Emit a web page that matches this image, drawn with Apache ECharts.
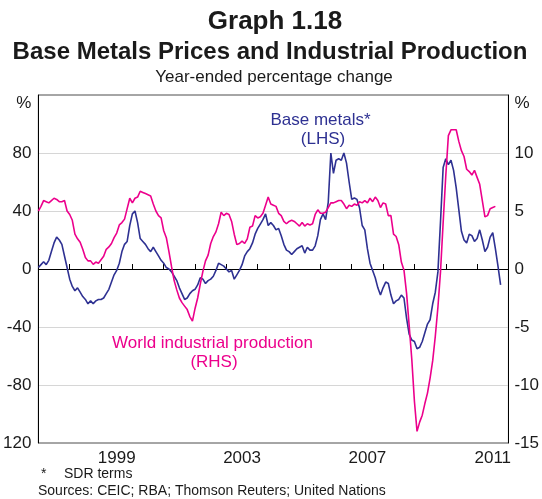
<!DOCTYPE html>
<html>
<head>
<meta charset="utf-8">
<script src="https://cdn.jsdelivr.net/npm/echarts@6/dist/echarts.min.js"></script>
<style>
html,body{margin:0;padding:0;background:#fff;}
#chart{width:542px;height:499px;}
</style>
</head>
<body>
<div id="chart"></div>
<script>
// Year categories on the x-axis (ticks at year boundaries, labels centred in the year)
const years = ['1997','1998','1999','2000','2001','2002','2003','2004','2005','2006','2007','2008','2009','2010','2011'];
const yearLabels = ['1999','2003','2007','2011'];

// Base metals prices, year-ended % change (LHS), monthly from Jan 1997
const metals = [
 1,3,5,3,6,12,18,22,20,17,9,1,
 -7,-12,-15,-13,-16,-19,-21,-24,-22,-24,-22,-21,
 -21,-20,-17,-14,-9,-4,-1,4,12,17,19,30,
 38,40,32,21,19,17,14,12,15,12,9,6,
 4,1,0,-2,-5,-8,-13,-17,-21,-20,-17,-15,
 -14,-11,-6,-7,-10,-8,-7,-5,-1,4,3,2,
 0,-2,-1,-7,-4,-1,3,9,12,14,18,24,
 28,31,34,38,30,32,30,27,28,23,17,13,
 12,10,12,14,15,16,11,15,13,13,16,23,
 34,38,34,46,80,66,75,76,75,80,73,60,
 48,49,48,42,30,27,14,4,-1,-6,-13,-18,
 -13,-9,-10,-18,-24,-22,-21,-18,-20,-34,-45,-49,
 -50,-55,-54,-50,-44,-38,-35,-24,-16,-2,33,70,
 76,72,75,68,56,41,26,20,18,24,23,19,
 21,27,20,12,15,22,25,14,2,-11
];

// World industrial production, year-ended % change (RHS), monthly from Jan 1997
const production = [
 5.0,5.4,5.9,5.8,5.7,5.9,6.1,6.0,5.8,5.8,5.9,5.0,
 4.7,4.2,3.0,2.6,2.3,1.7,1.0,0.7,0.7,0.4,0.6,0.5,
 0.8,1.1,1.7,1.9,2.2,2.7,3.1,3.8,4.0,4.3,5.2,6.1,
 5.7,6.1,6.2,6.7,6.6,6.5,6.4,6.3,5.6,5.0,4.6,4.4,
 3.3,2.7,1.5,0.2,-1.0,-1.8,-2.5,-2.9,-3.2,-3.5,-4.1,-4.5,
 -3.4,-2.5,-1.3,-0.2,0.7,1.2,2.2,2.8,3.2,3.9,4.9,4.6,
 4.8,4.7,4.1,3.0,2.1,2.2,2.4,2.2,2.6,3.6,3.7,4.6,
 4.4,4.5,4.8,5.5,6.2,5.6,5.5,5.4,4.8,4.6,4.1,3.9,
 4.1,4.2,4.1,3.9,3.7,4.0,3.7,3.9,3.8,3.9,4.7,5.1,
 4.8,4.8,4.9,5.3,5.7,5.7,5.8,5.9,5.9,5.6,5.2,5.5,
 5.4,5.6,5.5,5.8,5.7,5.9,5.7,6.1,5.8,6.2,5.9,5.3,
 5.7,5.6,4.6,4.6,3.0,2.8,2.1,0.6,-0.1,-2.1,-4.9,-7.8,
 -11.4,-14.0,-13.2,-12.6,-11.6,-10.7,-9.4,-7.9,-5.8,-3.3,-0.2,4.0,
 8.0,11.5,12.0,12.0,12.0,11.0,10.2,9.7,8.6,8.4,8.1,8.5,
 7.9,7.3,5.9,4.5,4.6,5.2,5.3,5.4
];

const FONT = '"Liberation Sans", Arial, Helvetica, sans-serif';
const BLUE = '#2e3192';
const PINK = '#ec008c';
const TXT = '#1a1a1a';

const chart = echarts.init(document.getElementById('chart'), null, {renderer: 'canvas'});

const option = {
  animation: false,
  backgroundColor: '#fff',
  textStyle: {fontFamily: FONT},
  grid: {left: 37, right: 31, top: 95, bottom: 56, containLabel: false,
         show: true, borderColor: '#4d4d4d', borderWidth: 1, backgroundColor: 'transparent'},
  xAxis: [
    {
      type: 'category', data: years, boundaryGap: true, position: 'bottom',
      axisLine: {show: true, lineStyle: {color: '#000', width: 1}},
      axisTick: {show: true, inside: true, length: 5, interval: 0, lineStyle: {color: '#000', width: 1}},
      axisLabel: {interval: 0, margin: 7, fontSize: 17, color: TXT, fontFamily: FONT,
                  formatter: v => yearLabels.includes(v) ? v : ''},
      splitLine: {show: false}
    },
    {type: 'value', min: 0, max: 180, show: false}
  ],
  yAxis: [
    {
      type: 'value', min: -120, max: 120, interval: 40, position: 'left',
      axisLine: {show: true, lineStyle: {color: '#000', width: 1}},
      axisTick: {show: false},
      axisLabel: {
        showMinLabel: true, showMaxLabel: true, margin: 7, fontSize: 17, color: TXT, fontFamily: FONT,
        formatter: v => v === 120 ? '{p|%}' : (v === -120 ? '120' : String(v)),
        rich: {p: {fontSize: 17, color: TXT, fontFamily: FONT, padding: [16, 0, 0, 0]}}
      },
      splitLine: {show: true, lineStyle: {width: 1,
        color: ['rgba(0,0,0,0)', '#d6d6d6', '#d6d6d6', '#000', '#d6d6d6', '#d6d6d6', 'rgba(0,0,0,0)']}}
    },
    {
      type: 'value', min: -15, max: 15, interval: 5, position: 'right',
      axisLine: {show: true, lineStyle: {color: '#000', width: 1}},
      axisTick: {show: false},
      axisLabel: {
        showMinLabel: true, showMaxLabel: true, margin: 6, fontSize: 17, color: TXT, fontFamily: FONT,
        formatter: v => v === 15 ? '{p|%}' : String(v),
        rich: {p: {fontSize: 17, color: TXT, fontFamily: FONT, padding: [16, 0, 0, 0]}}
      },
      splitLine: {show: false}
    }
  ],
  series: [
    {
      name: 'Base metals', type: 'line', xAxisIndex: 1, yAxisIndex: 0,
      data: metals.map((v, i) => [i, v]),
      symbol: 'none', lineStyle: {color: BLUE, width: 1.6}, itemStyle: {color: BLUE}, z: 3
    },
    {
      name: 'World industrial production', type: 'line', xAxisIndex: 1, yAxisIndex: 1,
      data: production.map((v, i) => [i, v]),
      symbol: 'none', lineStyle: {color: PINK, width: 1.6}, itemStyle: {color: PINK}, z: 4
    }
  ],
  graphic: [
    {type: 'text', x: 275, y: 22, style: {text: 'Graph 1.18', font: 'bold 26px ' + FONT, fill: '#1a1a1a', textAlign: 'center', textVerticalAlign: 'middle'}},
    {type: 'text', x: 270, y: 52, style: {text: 'Base Metals Prices and Industrial Production', font: 'bold 24px ' + FONT, fill: '#1a1a1a', textAlign: 'center', textVerticalAlign: 'middle'}},
    {type: 'text', x: 274, y: 77, style: {text: 'Year-ended percentage change', font: '17px ' + FONT, fill: '#1a1a1a', textAlign: 'center', textVerticalAlign: 'middle'}},
    {type: 'text', x: 320.5, y: 120, style: {text: 'Base metals*', font: '17px ' + FONT, fill: BLUE, textAlign: 'center', textVerticalAlign: 'middle'}},
    {type: 'text', x: 323, y: 139, style: {text: '(LHS)', font: '17px ' + FONT, fill: BLUE, textAlign: 'center', textVerticalAlign: 'middle'}},
    {type: 'text', x: 212.5, y: 343, style: {text: 'World industrial production', font: '17px ' + FONT, fill: PINK, textAlign: 'center', textVerticalAlign: 'middle'}},
    {type: 'text', x: 214, y: 362, style: {text: '(RHS)', font: '17px ' + FONT, fill: PINK, textAlign: 'center', textVerticalAlign: 'middle'}},
    {type: 'text', x: 41, y: 474, style: {text: '*', font: '14px ' + FONT, fill: '#1a1a1a', textVerticalAlign: 'middle'}},
    {type: 'text', x: 64, y: 474, style: {text: 'SDR terms', font: '14px ' + FONT, fill: '#1a1a1a', textVerticalAlign: 'middle'}},
    {type: 'text', x: 38, y: 491, style: {text: 'Sources: CEIC; RBA; Thomson Reuters; United Nations', font: '14px ' + FONT, fill: '#1a1a1a', textVerticalAlign: 'middle'}}
  ]
};
chart.setOption(option);
</script>
</body>
</html>
